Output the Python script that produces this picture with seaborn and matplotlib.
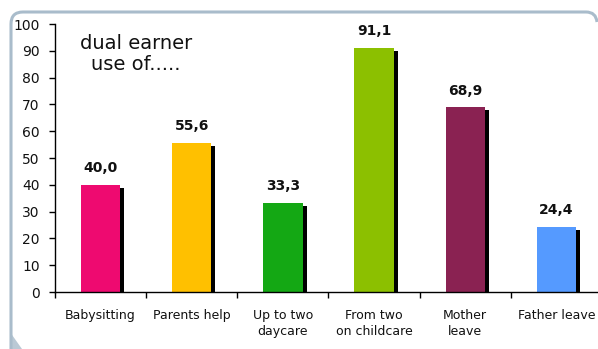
import matplotlib
matplotlib.use("Agg")
import matplotlib.pyplot as plt
import matplotlib.transforms as mtransforms
from matplotlib.path import Path
from matplotlib.patches import PathPatch, Polygon
import seaborn as sns
import pandas as pd

# Share of dual-earner households using each kind of childcare
categories = ["Babysitting", "Parents help", "Up to two\ndaycare",
              "From two\non childcare", "Mother\nleave", "Father leave"]
values = [40.0, 55.6, 33.3, 91.1, 68.9, 24.4]
bar_colors = ["#EE0A70", "#FFC000", "#14A814", "#8CC000", "#8A2252", "#559AFF"]
y_ticks = list(range(0, 101, 10))
title_text = "dual earner\nuse of....."

sns.set_theme(style="white")
plt.rcParams["font.family"] = ["DejaVu Sans"]

df = pd.DataFrame({"category": categories, "value": values})

W, H, DPI = 598, 349, 100
fig = plt.figure(figsize=(W / DPI, H / DPI), dpi=DPI, facecolor="white")

# axes placed in pixel terms: x from 55 px to ~602 px, y from 292 px (0) to 24 px (100)
left, right = 55 / W, 602 / W
bottom, top = 1 - 292 / H, 1 - 24 / H
ax = fig.add_axes([left, bottom, right - left, top - bottom])
ax.set_facecolor("white")

bar_width = 0.43

# black drop shadow, shifted right and down behind each bar
sns.barplot(data=df, x="category", y="value", color="black",
            width=bar_width, ax=ax, errorbar=None, saturation=1)
shift = mtransforms.ScaledTranslation(4 / DPI, -3 / DPI, fig.dpi_scale_trans)
for p in list(ax.patches):
    p.set_transform(ax.transData + shift)
    p.set_edgecolor("none")
    p.set_zorder(1)
n_shadow = len(ax.patches)

# coloured bars
sns.barplot(data=df, x="category", y="value", hue="category",
            palette=bar_colors, width=bar_width, ax=ax, errorbar=None,
            legend=False, saturation=1)
for p in ax.patches[n_shadow:]:
    p.set_edgecolor("none")
    p.set_zorder(2)

# value labels above the bars
for i, v in enumerate(values):
    ax.annotate(f"{v:.1f}".replace(".", ","), xy=(i, v), xytext=(0, 7),
                textcoords="offset points", ha="center", va="bottom",
                fontsize=10, fontweight="bold", color="#111111")

ax.set_xlim(-0.5, len(categories) - 0.5)
ax.set_ylim(0, 100)
ax.set_yticks(y_ticks)
ax.set_yticklabels([str(t) for t in y_ticks], fontsize=10, color="#111111")
ax.set_xticks(range(len(categories)))
ax.set_xticklabels(categories, fontsize=9, color="#111111", linespacing=1.3)
ax.set_xticks([i - 0.5 for i in range(len(categories) + 1)], minor=True)
ax.set_xlabel("")
ax.set_ylabel("")

ax.tick_params(axis="x", which="major", length=0, pad=12)
ax.tick_params(axis="x", which="minor", length=4, width=1, color="black",
               direction="out", bottom=True)
ax.tick_params(axis="y", which="major", length=4, width=1, color="black",
               direction="out", left=True, pad=7)

for s in ["top", "right"]:
    ax.spines[s].set_visible(False)
for s in ["left", "bottom"]:
    ax.spines[s].set_color("black")
    ax.spines[s].set_linewidth(1)
ax.grid(False)

# chart title inside the plot area
fig.text(136 / W, 1 - 34 / H, title_text, ha="center", va="top",
         fontsize=14, color="#111111", linespacing=1.1)

# rounded frame along the top and left edges
frame_col = "#A9BCCB"
px = lambda x, y: (x / W, 1 - y / H)
verts = [px(11, 349), px(11, 24), px(11, 12), px(23, 12),
         px(586, 12), px(596, 12), px(597, 22)]
codes = [Path.MOVETO, Path.LINETO, Path.CURVE3, Path.CURVE3,
         Path.LINETO, Path.CURVE3, Path.CURVE3]
fig.add_artist(PathPatch(Path(verts, codes), transform=fig.transFigure,
                         facecolor="none", edgecolor=frame_col, linewidth=2.2))
fig.add_artist(Polygon([px(10, 332), px(10, 349), px(22, 349)], closed=True,
                       transform=fig.transFigure, facecolor=frame_col,
                       edgecolor="none", alpha=0.8))

fig.savefig("out.png", dpi=DPI, facecolor="white")
